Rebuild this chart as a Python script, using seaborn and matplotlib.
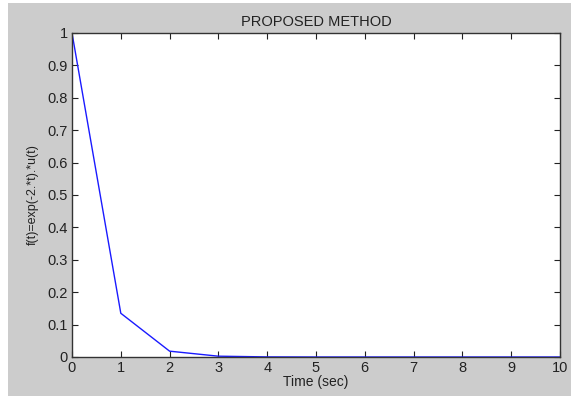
import matplotlib
matplotlib.use("Agg")
import matplotlib.pyplot as plt
import seaborn as sns
import pandas as pd
from matplotlib.patches import Rectangle

# data
t = [0, 1, 2, 3, 4, 5, 6, 7, 8, 9, 10]
f = [1.0, 0.135, 0.018, 0.0025, 0.0003, 0.0, 0.0, 0.0, 0.0, 0.0, 0.0]
df = pd.DataFrame({"t": t, "f": f})

sns.set_style("ticks")
plt.rcParams['font.family'] = ['Liberation Sans', 'DejaVu Sans']

fig = plt.figure(figsize=(5.71, 3.96), dpi=100, facecolor="white")
# matlab-like grey figure area
fig.patches.append(Rectangle((8/571, 0), 1 - 8/571, 1 - 3/396, transform=fig.transFigure,
                             facecolor="#cccccc", edgecolor="none", zorder=-10))
ax = fig.add_axes([72/571, 39/396, 488/571, 324/396])
ax.set_facecolor("white")

sns.lineplot(data=df, x="t", y="f", color="#1a1aff", linewidth=1.0, ax=ax)

ax.set_xlim(0, 10)
ax.set_ylim(0, 1)
ax.set_xticks(range(0, 11))
ax.set_yticks([i / 10 for i in range(0, 11)])
ax.set_yticklabels(["0", "0.1", "0.2", "0.3", "0.4", "0.5", "0.6", "0.7", "0.8", "0.9", "1"])
ax.tick_params(direction="in", length=4, width=0.8, top=True, right=True,
               labelsize=10.5, colors="#222222", pad=3)
for s in ax.spines.values():
    s.set_visible(True)
    s.set_color("#333333")
    s.set_linewidth(1.0)

ax.set_title("PROPOSED METHOD", fontsize=10.5, color="#222222", pad=5)
ax.set_xlabel("Time (sec)", fontsize=10, color="#222222", labelpad=0)
ax.set_ylabel("f(t)=exp(-2.*t).*u(t)", fontsize=9, color="#222222", labelpad=6)

fig.savefig("out.png", dpi=100, facecolor=fig.get_facecolor())
